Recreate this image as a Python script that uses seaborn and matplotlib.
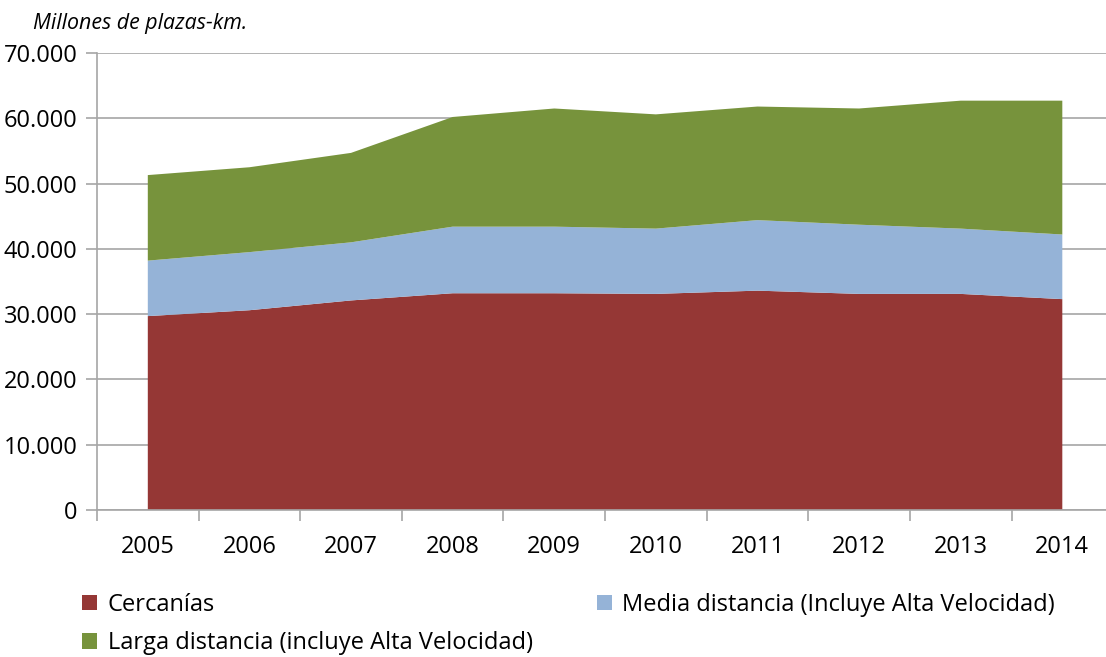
import matplotlib
matplotlib.use("Agg")
import matplotlib.pyplot as plt
import matplotlib.ticker as mticker
from matplotlib.patches import Patch
import numpy as np
import seaborn as sns

# data (millones de plazas-km)
years = ["2005", "2006", "2007", "2008", "2009", "2010", "2011", "2012", "2013", "2014"]
cercanias = [29700, 30600, 32100, 33200, 33200, 33100, 33600, 33100, 33100, 32300]
media = [8500, 8900, 8900, 10200, 10200, 10000, 10800, 10600, 10000, 9900]
larga = [13100, 13000, 13700, 16800, 18100, 17500, 17400, 17800, 19600, 20500]
labels = ["Cercanías", "Media distancia (Incluye Alta Velocidad)",
          "Larga distancia (incluye Alta Velocidad)"]
colors = ["#953735", "#95B3D7", "#77933C"]

sns.set_theme(style="white")
plt.rcParams['font.family'] = ['Open Sans', 'DejaVu Sans']

fig = plt.figure(figsize=(11.06, 6.57), dpi=100)
ax = fig.add_axes([97/1106, 1-510/657, 1-97/1106, (510-53)/657])

x = np.arange(len(years))
ax.stackplot(x, cercanias, media, larga, colors=colors, linewidth=0, edgecolor="none", zorder=2)

ax.yaxis.set_major_locator(mticker.MultipleLocator(10000))
ax.yaxis.set_major_formatter(mticker.FuncFormatter(lambda v, p: f"{int(v):,}".replace(",", ".")))
ax.grid(axis="y", color="#a6a6a6", linewidth=1.2, zorder=0)
ax.set_axisbelow(True)

# category labels centred, tick marks between categories
ax.set_xticks(x)
ax.set_xticklabels(years)
ax.set_xticks(np.arange(-0.5, 9.0, 1), minor=True)
ax.tick_params(axis="x", which="major", length=0, pad=18, labelsize=17, labelcolor="#000000")
ax.tick_params(axis="x", which="minor", length=8, width=1.2, color="#a6a6a6", direction="out", bottom=True)
ax.tick_params(axis="y", length=8, width=1.2, color="#a6a6a6", direction="out", left=True,
               labelsize=17, labelcolor="#000000", pad=6)
ax.set_ylim(0, 70000)
ax.set_xlim(-0.5, 9.43)

for s in ["top", "right"]:
    ax.spines[s].set_visible(False)
for s in ["left", "bottom"]:
    ax.spines[s].set_color("#a6a6a6")
    ax.spines[s].set_linewidth(1.2)

fig.text(33/1106, 1-24/657, "Millones de plazas-km.", fontsize=15.4, style="italic",
         color="#000000", va="center", ha="left")

handles = [Patch(facecolor=c, edgecolor="none") for c in colors]
order = [0, 2, 1]
fig.legend([handles[i] for i in order], [labels[i] for i in order],
           ncol=2, loc="upper left", bbox_to_anchor=(70/1106, 1-581/657),
           frameon=False, fontsize=17, labelcolor="#000000", handlelength=0.65, handleheight=0.65,
           handletextpad=0.45, columnspacing=2.7, labelspacing=0.62, borderpad=0)

fig.savefig("out.png", dpi=100)
